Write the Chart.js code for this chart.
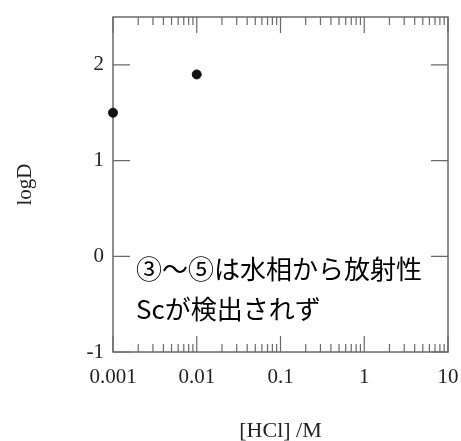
<!DOCTYPE html>
<html>
<head>
<meta charset="utf-8">
<script src="https://cdn.jsdelivr.net/npm/chart.js@4.4.1/dist/chart.umd.min.js"></script>
<style>
  html, body { margin: 0; padding: 0; background: #fff; }
  #wrap { width: 461px; height: 441px; }
</style>
</head>
<body>
<div id="wrap"><canvas id="logChart" width="461" height="441"></canvas></div>
<script>
// データ
const hclConc = [0.001, 0.01];
const logD = [1.5, 1.9];
const xTicks = [0.001, 0.01, 0.1, 1, 10];
const xTickLabels = ['0.001', '0.01', '0.1', '1', '10'];
const yTicks = [-1, 0, 1, 2];
const yTickLabels = ['-1', '0', '1', '2'];
const minorSteps = [2, 3, 4, 5, 6, 7, 8, 9];
const noteLines = ['③～⑤は水相から放射性', 'Scが検出されず'];

const axisColor = '#6a6a6a';
const serif = '"Liberation Serif", "Times New Roman", serif';

// 内向きの目盛りと枠を描く
const frameTicks = {
  id: 'frameTicks',
  beforeDatasetsDraw(chart) {
    const { ctx, chartArea: a, scales: { x, y } } = chart;
    ctx.save();
    ctx.strokeStyle = axisColor;
    ctx.lineWidth = 1.5;
    ctx.strokeRect(a.left, a.top, a.right - a.left, a.bottom - a.top);

    ctx.lineWidth = 1.2;
    ctx.beginPath();
    xTicks.forEach((v, i) => {
      const px = x.getPixelForValue(v);
      ctx.moveTo(px, a.bottom); ctx.lineTo(px, a.bottom - 16);
      ctx.moveTo(px, a.top); ctx.lineTo(px, a.top + 16);
      if (i < xTicks.length - 1) {
        minorSteps.forEach(k => {
          const mx = x.getPixelForValue(v * k);
          ctx.moveTo(mx, a.bottom); ctx.lineTo(mx, a.bottom - 8);
          ctx.moveTo(mx, a.top); ctx.lineTo(mx, a.top + 8);
        });
      }
    });
    yTicks.forEach(v => {
      const py = y.getPixelForValue(v);
      ctx.moveTo(a.left, py); ctx.lineTo(a.left + 17, py);
      ctx.moveTo(a.right, py); ctx.lineTo(a.right - 17, py);
    });
    ctx.stroke();
    ctx.restore();
  },
  afterDraw(chart) {
    const { ctx, chartArea: a } = chart;
    ctx.save();
    ctx.fillStyle = '#000';
    ctx.font = '26px "Noto Sans CJK JP", sans-serif';
    ctx.textBaseline = 'middle';
    noteLines.forEach((t, i) => {
      ctx.fillText(t, a.left + 23, a.top + 252 + i * 40);
    });
    ctx.restore();
  }
};

new Chart(document.getElementById('logChart').getContext('2d'), {
  type: 'scatter',
  data: {
    datasets: [{
      data: hclConc.map((v, i) => ({ x: v, y: logD[i] })),
      backgroundColor: '#111',
      borderColor: '#111',
      pointRadius: 4.5,
      pointHoverRadius: 4.5,
      showLine: false,
      clip: false
    }]
  },
  options: {
    responsive: false,
    animation: false,
    events: [],
    layout: { padding: { left: 0, right: 13, top: 17, bottom: 0 } },
    plugins: { legend: { display: false }, tooltip: { enabled: false } },
    scales: {
      x: {
        type: 'logarithmic',
        min: 0.001,
        max: 10,
        afterBuildTicks: s => { s.ticks = xTicks.map(v => ({ value: v })); },
        afterFit: s => { s.height = 89; s.paddingLeft = 0; s.paddingRight = 0; },
        grid: { display: false, drawTicks: false },
        border: { display: false },
        ticks: {
          autoSkip: false,
          maxRotation: 0,
          padding: 13,
          color: '#222',
          font: { family: serif, size: 21 },
          callback: (v, i) => xTickLabels[i]
        },
        title: {
          display: true,
          text: '[HCl] /M',
          color: '#222',
          font: { family: serif, size: 22 },
          padding: { top: 0, bottom: -3 }
        }
      },
      y: {
        min: -1,
        max: 2.5,
        afterBuildTicks: s => { s.ticks = yTicks.map(v => ({ value: v })); },
        afterFit: s => { s.width = 113; s.paddingTop = 0; s.paddingBottom = 0; },
        grid: { display: false, drawTicks: false },
        border: { display: false },
        ticks: {
          autoSkip: false,
          padding: 9,
          color: '#222',
          font: { family: serif, size: 21 },
          callback: (v, i) => yTickLabels[i]
        },
        title: {
          display: true,
          text: 'logD',
          color: '#222',
          font: { family: serif, size: 21 },
          padding: { top: 13, bottom: 0 }
        }
      }
    }
  },
  plugins: [frameTicks]
});
</script>
</body>
</html>
